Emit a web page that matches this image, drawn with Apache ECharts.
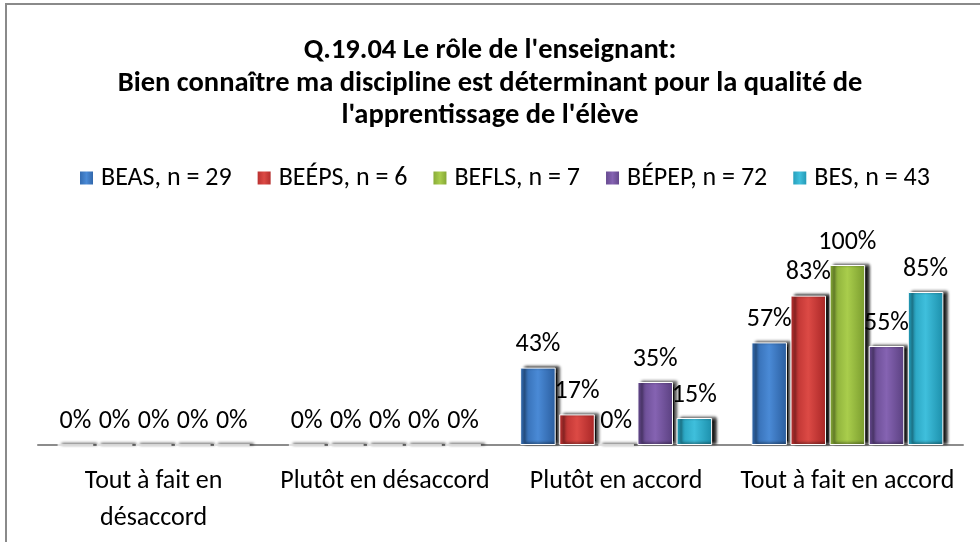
<!DOCTYPE html>
<html><head><meta charset="utf-8">
<script src="https://cdn.jsdelivr.net/npm/echarts@6/dist/echarts.min.js"></script>
<style>html,body{margin:0;padding:0;background:#fff}#c{width:980px;height:542px}</style>
</head><body><div id="c"></div>
<script>
const categories = ['Tout à fait en\ndésaccord', 'Plutôt en désaccord', 'Plutôt en accord', 'Tout à fait en accord'];
const seriesNames = ['BEAS, n = 29', 'BEÉPS, n = 6', 'BEFLS, n = 7', 'BÉPEP, n = 72', 'BES, n = 43'];
const beas = [0, 0, 43, 57];
const beeps = [0, 0, 17, 83];
const befls = [0, 0, 0, 100];
const bepep = [0, 0, 35, 55];
const bes = [0, 0, 15, 85];
const titleLines = ["Q.19.04 Le rôle de l'enseignant:", "Bien connaître ma discipline est déterminant pour la qualité de", "l'apprentissage de l'élève"];

const FONT = 'Carlito, Lato, "Open Sans", sans-serif';
const palettes = [
  ['#2d63a6', '#4a8ad6', '#2a5d9e'],
  ['#b02a2a', '#dc4a45', '#a82626'],
  ['#7fa232', '#a9cd4c', '#7a9c2e'],
  ['#5e4386', '#8563b2', '#5a4080'],
  ['#1f97b3', '#3fbfdc', '#1c8fab']
];
const values = [beas, beeps, befls, bepep, bes];
function grad(p){
  return new echarts.graphic.LinearGradient(0,0,1,0,[
    {offset:0,color:p[0]},{offset:0.5,color:p[1]},{offset:1,color:p[2]}]);
}
const chart = echarts.init(document.getElementById('c'), null, {renderer:'canvas'});
chart.setOption({
  animation:false,
  textStyle:{fontFamily:FONT},
  title:{text:titleLines.join('\n'), left:'center', top:30,
    textStyle:{fontFamily:FONT, fontSize:28.5, fontWeight:'bold', color:'#000', lineHeight:32.5}},
  legend:{top:160, left:73, itemWidth:15, itemHeight:15, itemGap:24,
    textStyle:{fontFamily:FONT, fontSize:26, color:'#000', padding:[0,0,0,2]},
    data: seriesNames.map((n,i)=>({name:n, icon:'rect', itemStyle:{color:grad(palettes[i])}}))},
  grid:{left:38, right:17, top:265, bottom:97},
  xAxis:{type:'category', data:categories,
    axisLine:{lineStyle:{color:'#8c8c8c', width:2}}, axisTick:{show:false},
    axisLabel:{fontFamily:FONT, fontSize:26, color:'#000', margin:18, lineHeight:37, interval:0}},
  yAxis:{type:'value', min:0, max:100, show:false, splitLine:{show:false}},
  series: values.map((v,i)=>({
    name:seriesNames[i], type:'bar', data:v, barGap:'10%', barCategoryGap:'17%',
    itemStyle:{color:grad(palettes[i]), borderColor:'#fff', borderWidth:1,
      shadowColor:'rgba(0,0,0,0.95)', shadowBlur:3, shadowOffsetX:4, shadowOffsetY:-1},
    label:{show:true, position:'top', distance:10, formatter:'{c}%', fontFamily:FONT, fontSize:26, color:'#000'}
  })),
  graphic:[{type:'rect', shape:{x:6, y:4, width:1000, height:600}, style:{fill:'none', stroke:'#8a8a8a', lineWidth:2}, silent:true}]
});
</script></body></html>
